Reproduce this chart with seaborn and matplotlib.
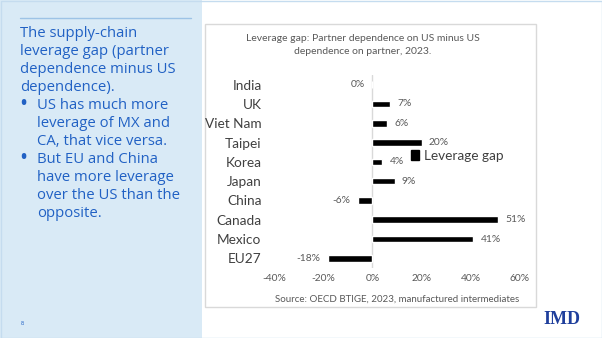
import matplotlib
matplotlib.use("Agg")
import matplotlib.pyplot as plt
from matplotlib.patches import Rectangle, Patch
import seaborn as sns
import pandas as pd

# ---- data ----
countries = ["India", "UK", "Viet Nam", "Taipei", "Korea", "Japan", "China", "Canada", "Mexico", "EU27"]
leverage_gap = [0, 7, 6, 20, 4, 9, -6, 51, 41, -18]
x_ticks = [-40, -20, 0, 20, 40, 60]
series_name = "Leverage gap"
chart_title = "Leverage gap: Partner dependence on US minus US\ndependence on partner, 2023."
source_note = "Source: OECD BTIGE, 2023, manufactured intermediates"
side_lines = ["The supply-chain", "leverage gap (partner", "dependence minus US", "dependence)."]
bullets = [["US has much more", "leverage of MX and", "CA, that vice versa."],
           ["But EU and China", "have more leverage", "over the US than the", "opposite."]]

df = pd.DataFrame({"country": countries, "gap": leverage_gap})

sns.set_style("white")
plt.rcParams["font.family"] = ["Lato", "DejaVu Sans"]

W, H = 602, 338
fig = plt.figure(figsize=(W / 100, H / 100), dpi=100)


def fx(x):
    return x / W


def fy(y):
    return 1 - y / H


# slide background pieces
fig.patches.append(Rectangle((0, 0), fx(202), 1, transform=fig.transFigure,
                             facecolor="#d9eaf6", edgecolor="none", zorder=-2))
fig.patches.append(Rectangle((fx(0.5), fy(337.5)), fx(601), 1 - 1 / H, transform=fig.transFigure,
                             facecolor="none", edgecolor="#c5dcef", lw=1, zorder=-2))
# chart box
fig.patches.append(Rectangle((fx(204.5), fy(307)), fx(331), fy(24) - fy(307), transform=fig.transFigure,
                             facecolor="white", edgecolor="#d9d9d9", lw=1, zorder=-1))
# top rule on the left panel
fig.add_artist(plt.Line2D([fx(20), fx(191)], [fy(18), fy(18)], transform=fig.transFigure,
                          color="#9dc3e6", lw=1))

blue = "#2161c4"
side_font = dict(family=["Open Sans", "DejaVu Sans"], fontsize=10.7, color=blue, va="baseline")
y = 37
for line in side_lines:
    fig.text(fx(20), fy(y), line, **side_font)
    y += 18
for group in bullets:
    fig.text(fx(20), fy(y), "\u2022", family=["Open Sans"], fontsize=12, color=blue,
             va="baseline", fontweight="bold")
    for line in group:
        fig.text(fx(37), fy(y), line, **side_font)
        y += 18

fig.text(fx(21), fy(325), "8", color=blue, fontsize=4)
fig.text(fx(543), fy(324), "IMD", family=["Liberation Serif"], fontweight="bold",
         fontsize=13, color="#1f3f9c", va="baseline")

# ---- chart ----
ax = fig.add_axes([fx(274), fy(268), fx(520) - fx(274), fy(75) - fy(268)])
ax.set_zorder(2)
sns.barplot(data=df, x="gap", y="country", orient="h", color="black",
            width=0.34, ax=ax, saturation=1)
ax.set_xlim(-40, 60)
ax.set_ylim(len(countries) - 0.5, -0.5)
ax.set_xticks(x_ticks)
ax.set_xticklabels([f"{t}%" for t in x_ticks], fontsize=7.4, color="#595959")
ax.tick_params(axis="y", labelsize=9.8, labelcolor="#404040", length=0, pad=9)
ax.tick_params(axis="x", length=0, pad=4)
ax.set_xlabel("")
ax.set_ylabel("")
ax.patch.set_alpha(0)
for s in ["top", "right", "bottom", "left"]:
    ax.spines[s].set_visible(False)
ax.axvline(0, color="#d9d9d9", lw=1, zorder=0)

for i, v in enumerate(leverage_gap):
    if v > 0:
        ax.annotate(f"{v}%", (v, i), xytext=(5.3, 0), textcoords="offset points",
                    ha="left", va="center", fontsize=7.4, color="#595959")
    else:
        ax.annotate(f"{v}%", (v, i), xytext=(-5.3, 0), textcoords="offset points",
                    ha="right", va="center", fontsize=7.4, color="#595959")

fig.legend(handles=[Patch(facecolor="black", edgecolor="black")], labels=[series_name],
           loc="center left", bbox_to_anchor=(fx(411), fy(156)), frameon=False,
           fontsize=9.8, handlelength=0.6, handleheight=0.7, handletextpad=0.35,
           labelcolor="#404040", borderpad=0, borderaxespad=0)

fig.text(fx(363), fy(45), chart_title, ha="center", va="center", fontsize=7.5,
         color="#595959", linespacing=1.45)
fig.text(fx(397), fy(299), source_note, ha="center", va="center", fontsize=7.0, color="#595959")

fig.savefig("out.png", dpi=100)
